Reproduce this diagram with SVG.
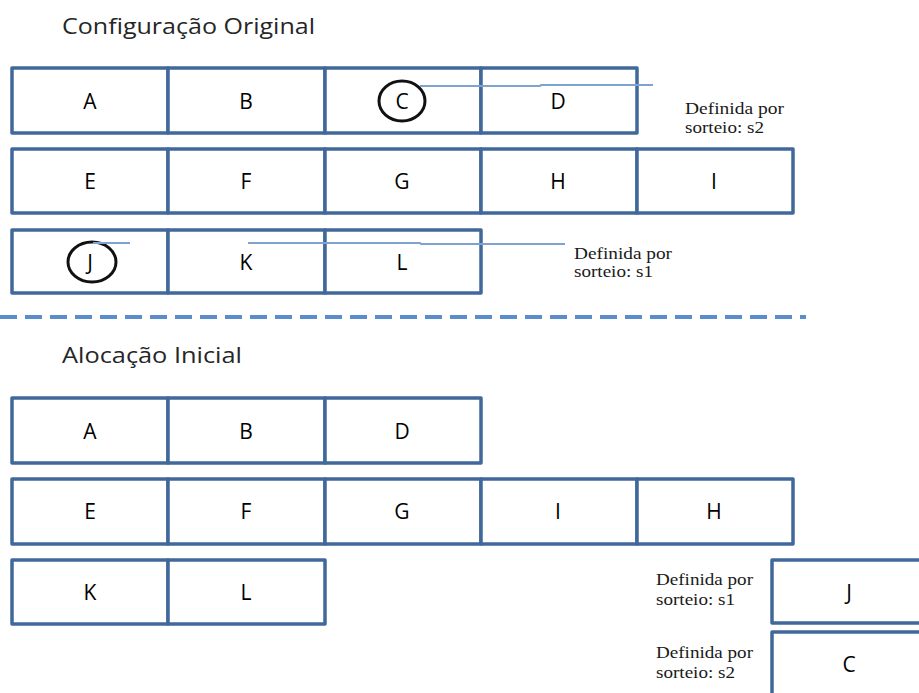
<svg xmlns="http://www.w3.org/2000/svg" width="919" height="693" viewBox="0 0 919 693">
<style>
.cell{fill:#ffffff;stroke:#41689a;stroke-width:3.5;stroke-linejoin:round}
.lbl{font-family:"Open Sans","DejaVu Sans",sans-serif;font-size:21px;fill:#000000;text-anchor:middle}
.title{font-family:"Open Sans","DejaVu Sans",sans-serif;font-size:21px;fill:#262626}
.note{font-family:"Liberation Serif","DejaVu Serif",serif;font-size:17px;fill:#1a1a1a}
.ring{fill:none;stroke:#111111;stroke-width:3}
.lead{fill:none;stroke:#7fa3d1;stroke-width:2}
</style>
<rect width="919" height="693" fill="#ffffff"/>
<text class="title" x="62" y="34" textLength="253" lengthAdjust="spacingAndGlyphs">Configuração Original</text>
<text class="title" x="62" y="363" textLength="180" lengthAdjust="spacingAndGlyphs">Alocação Inicial</text>

<g id="orig-A"><rect class="cell" x="12" y="68" width="156" height="65"/><text class="lbl" x="90" y="109">A</text></g>
<g id="orig-B"><rect class="cell" x="168" y="68" width="157" height="65"/><text class="lbl" x="246" y="109">B</text></g>
<g id="orig-C"><rect class="cell" x="325" y="68" width="156" height="65"/><text class="lbl" x="402" y="109">C</text><ellipse class="ring" cx="402" cy="101" rx="23" ry="20"/></g>
<g id="orig-D"><rect class="cell" x="481" y="68" width="156" height="65"/><text class="lbl" x="558" y="109">D</text></g>

<g id="orig-E"><rect class="cell" x="12" y="149" width="156" height="64"/><text class="lbl" x="90" y="189">E</text></g>
<g id="orig-F"><rect class="cell" x="168" y="149" width="157" height="64"/><text class="lbl" x="246" y="189">F</text></g>
<g id="orig-G"><rect class="cell" x="325" y="149" width="156" height="64"/><text class="lbl" x="402" y="189">G</text></g>
<g id="orig-H"><rect class="cell" x="481" y="149" width="156" height="64"/><text class="lbl" x="558" y="189">H</text></g>
<g id="orig-I"><rect class="cell" x="637" y="149" width="156" height="64"/><text class="lbl" x="714" y="189">I</text></g>

<g id="orig-J"><rect class="cell" x="12" y="230" width="156" height="63"/><text class="lbl" x="90" y="270">J</text><ellipse class="ring" cx="92" cy="262" rx="24" ry="20"/></g>
<g id="orig-K"><rect class="cell" x="168" y="230" width="157" height="63"/><text class="lbl" x="246" y="270">K</text></g>
<g id="orig-L"><rect class="cell" x="325" y="230" width="156" height="63"/><text class="lbl" x="402" y="270">L</text></g>

<g id="note-s2-top"><text class="note" x="685" y="114" textLength="99" lengthAdjust="spacingAndGlyphs">Definida por</text><text class="note" x="685" y="133" textLength="79" lengthAdjust="spacingAndGlyphs">sorteio: s2</text></g>
<g id="note-s1-mid"><text class="note" x="574" y="259" textLength="98" lengthAdjust="spacingAndGlyphs">Definida por</text><text class="note" x="574" y="277" textLength="79" lengthAdjust="spacingAndGlyphs">sorteio: s1</text></g>

<g id="connectors">
<path class="lead" d="M420 86 H540 L541 85 H653"/>
<path class="lead" d="M93 243 H130"/>
<path class="lead" d="M248 243 H420 L421 244 H565"/>
</g>

<line id="separator" x1="0" y1="317" x2="806" y2="317" stroke="#5b8ccc" stroke-width="4" stroke-dasharray="17 8"/>

<g id="alloc-A"><rect class="cell" x="12" y="398" width="156" height="65"/><text class="lbl" x="90" y="439">A</text></g>
<g id="alloc-B"><rect class="cell" x="168" y="398" width="157" height="65"/><text class="lbl" x="246" y="439">B</text></g>
<g id="alloc-D"><rect class="cell" x="325" y="398" width="156" height="65"/><text class="lbl" x="402" y="439">D</text></g>

<g id="alloc-E"><rect class="cell" x="12" y="479" width="156" height="65"/><text class="lbl" x="90" y="519">E</text></g>
<g id="alloc-F"><rect class="cell" x="168" y="479" width="157" height="65"/><text class="lbl" x="246" y="519">F</text></g>
<g id="alloc-G"><rect class="cell" x="325" y="479" width="156" height="65"/><text class="lbl" x="402" y="519">G</text></g>
<g id="alloc-I"><rect class="cell" x="481" y="479" width="156" height="65"/><text class="lbl" x="558" y="519">I</text></g>
<g id="alloc-H"><rect class="cell" x="637" y="479" width="156" height="65"/><text class="lbl" x="714" y="519">H</text></g>

<g id="alloc-K"><rect class="cell" x="12" y="560" width="156" height="64"/><text class="lbl" x="90" y="600">K</text></g>
<g id="alloc-L"><rect class="cell" x="168" y="560" width="157" height="64"/><text class="lbl" x="246" y="600">L</text></g>

<g id="alloc-J"><rect class="cell" x="772" y="560" width="156" height="63"/><text class="lbl" x="849" y="600">J</text></g>
<g id="alloc-C"><rect class="cell" x="772" y="632" width="156" height="70"/><text class="lbl" x="849" y="672">C</text></g>

<g id="note-s1-bottom"><text class="note" x="656" y="585" textLength="97" lengthAdjust="spacingAndGlyphs">Definida por</text><text class="note" x="656" y="605" textLength="79" lengthAdjust="spacingAndGlyphs">sorteio: s1</text></g>
<g id="note-s2-bottom"><text class="note" x="656" y="658" textLength="97" lengthAdjust="spacingAndGlyphs">Definida por</text><text class="note" x="656" y="678" textLength="79" lengthAdjust="spacingAndGlyphs">sorteio: s2</text></g>
</svg>
